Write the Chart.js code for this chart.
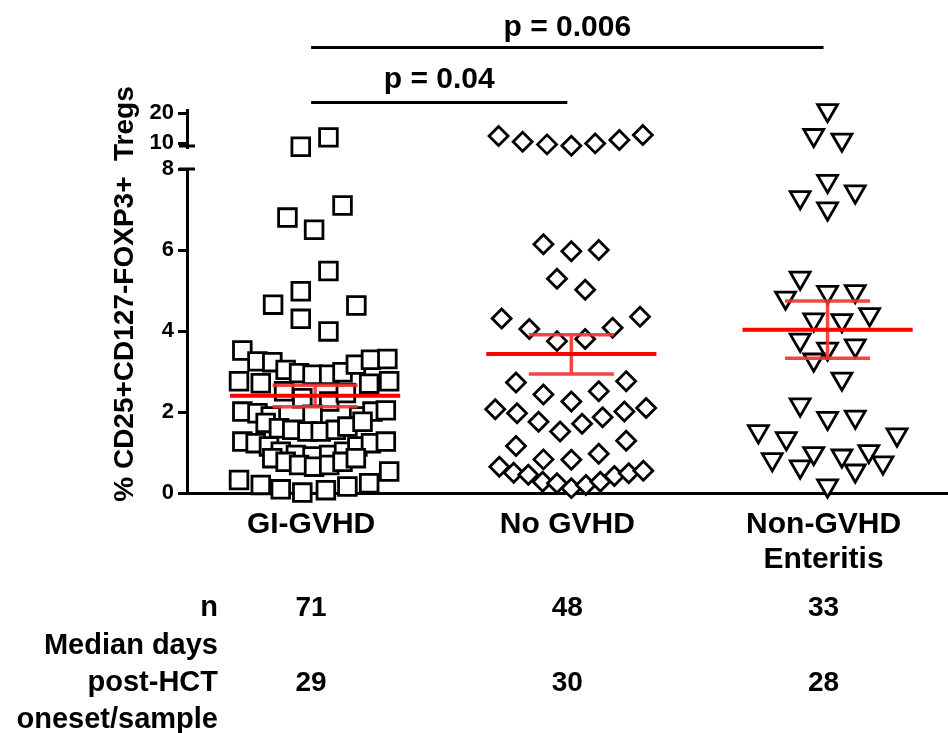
<!DOCTYPE html>
<html>
<head>
<meta charset="utf-8">
<script src="https://cdn.jsdelivr.net/npm/chart.js@4.4.1/dist/chart.umd.min.js"></script>
<style>
html,body{margin:0;padding:0;background:#fff;}
canvas{display:block;}
</style>
</head>
<body>
<canvas id="c" width="948" height="733"></canvas>
<script>
// ---------------- DATA ----------------
const categories = ['GI-GVHD', 'No GVHD', ['Non-GVHD', 'Enteritis']];
const yTicksLower = [0, 2, 4, 6, 8];
const yTicksUpper = [10, 20];
const yTitle = '% CD25+CD127-FOXP3+  Tregs';

// GI-GVHD (squares) – lower segment
const giGvhdValues = [6.8,7.1,6.5,5.48,4.98,4.65,4.63,4.3,3.99,3.52,
  3.25,3.23,3.04,2.96,2.92,2.92,2.98,3.17,3.29,3.31,
  2.76,2.71,2.70,2.76,
  2.51,2.34,2.26,2.47,
  2.01,1.97,1.89,1.93,1.89,2.01,2.04,
  1.73,1.6,1.56,1.52,1.52,1.56,1.64,1.76,
  1.27,1.23,1.15,1.02,0.94,0.9,0.94,1.02,1.15,1.23,1.27,
  0.86,0.77,0.69,0.65,0.69,0.77,0.86,
  0.32,0.2,0.09,0.01,0.07,0.16,0.24,0.53];
const giGvhdJitter = [-0.108,0.107,-0.004,0.052,-0.056,-0.164,0.161,-0.056,0.052,-0.284,
  -0.225,-0.167,-0.115,-0.0625,-0.01,0.055,0.107,0.159,0.218,0.282,
  -0.297,-0.212,0.211,0.289,
  -0.121,-0.05,0.055,0.12,
  -0.284,-0.225,-0.173,-0.01,0.172,0.224,0.276,
  -0.193,-0.141,-0.089,-0.03,0.022,0.081,0.126,0.185,
  -0.284,-0.232,-0.18,-0.134,-0.075,-0.01,0.055,0.113,0.165,0.218,0.276,
  -0.167,-0.115,-0.0625,-0.004,0.055,0.107,0.159,
  -0.297,-0.212,-0.134,-0.05,0.042,0.126,0.211,0.289];
// GI-GVHD – upper segment
const giGvhdHighValues = [8.8, 11.9];
const giGvhdHighJitter = [-0.056, 0.052];

// No GVHD (diamonds) – lower segment
const noGvhdValues = [6.14,5.97,6.0,5.29,5.02,
  4.31,4.05,3.75,3.8,4.08,4.35,
  2.73,2.43,2.26,2.51,2.76,
  2.07,1.97,1.76,1.52,1.71,1.87,2.01,2.1,
  1.16,0.83,0.82,0.97,1.29,
  0.65,0.5,0.45,0.28,0.24,0.12,0.2,0.28,0.42,0.49,0.55];
const noGvhdJitter = [-0.109,0,0.107,-0.056,0.054,
  -0.272,-0.164,-0.056,0.054,0.161,0.268,
  -0.216,-0.109,0,0.107,0.214,
  -0.297,-0.212,-0.128,-0.044,0.042,0.122,0.207,0.292,
  -0.216,-0.109,0,0.107,0.214,
  -0.281,-0.225,-0.168,-0.112,-0.056,0,0.057,0.113,0.168,0.224,0.281];
// No GVHD – upper segment
const noGvhdHighValues = [12.33,10.43,9.57,9.1,9.9,11.0,12.67];
const noGvhdHighJitter = [-0.284,-0.19,-0.095,0,0.093,0.1875,0.279];

// Non-GVHD Enteritis (down triangles) – lower segment
const enteritisValues = [7.7,7.3,7.44,7.02,
  5.31,4.82,4.96,4.98,4.41,4.28,4.26,
  3.78,3.56,3.64,3.29,2.82,
  2.18,1.85,1.88,1.52,1.35,1.44,
  0.83,0.98,0.92,1.03,0.65,0.55,0.75,0.18];
const enteritisJitter = [0,-0.107,0.108,0,
  -0.107,-0.164,0,0.108,0.164,-0.054,0.056,
  -0.107,0,0.108,-0.054,0.056,
  -0.107,0,0.108,-0.27,-0.161,0.271,
  -0.216,-0.054,0.056,0.161,-0.107,0.108,0.216,0];
// Non-GVHD Enteritis – upper segment
const enteritisHighValues = [20.9, 12.6, 11.1];
const enteritisHighJitter = [0, -0.054, 0.056];

// Mean and SEM per group
const means   = [2.40, 3.43, 4.03];
const semHigh = [2.66, 3.91, 4.74];
const semLow  = [2.13, 2.94, 3.33];

// Significance brackets
const pFrom   = [1, 1];
const pTo     = [2, 3];
const pLabels = ['p = 0.04', 'p = 0.006'];

// Table under the chart
const nValues     = [71, 48, 33];
const medianDays  = [29, 30, 28];
const rowLabelN   = 'n';
const rowLabelMed = ['Median days', 'post-HCT', 'oneset/sample'];

// ---------------- STYLE / LAYOUT ----------------
const FONT = '"Liberation Sans", Arial, Helvetica, sans-serif';
const MEAN_HW = 0.332;
const CAP_HW = 0.166;
const LABEL_SHIFT = -4;

function pts(vals, jit, cat) { return vals.map((v, i) => ({x: cat + jit[i], y: v})); }
function meanData() {
  const d = [];
  means.forEach((m, i) => { const c = i + 1; d.push({x: c - MEAN_HW, y: m}, {x: c + MEAN_HW, y: m}, {x: c, y: null}); });
  return d;
}
function semData() {
  const d = [];
  means.forEach((m, i) => {
    const c = i + 1;
    d.push({x: c - CAP_HW, y: semHigh[i]}, {x: c + CAP_HW, y: semHigh[i]}, {x: c, y: null});
    d.push({x: c, y: semHigh[i]}, {x: c, y: semLow[i]}, {x: c, y: null});
    d.push({x: c - CAP_HW, y: semLow[i]}, {x: c + CAP_HW, y: semLow[i]}, {x: c, y: null});
  });
  return d;
}
const marker = {backgroundColor: '#ffffff', borderColor: '#000000', borderWidth: 2.8, clip: false, order: 2};
const sqr = Object.assign({}, marker, {pointStyle: 'rect', pointRadius: 12.5});
const dia = Object.assign({}, marker, {pointStyle: 'rectRot', pointRadius: 9.5});
const tri = Object.assign({}, marker, {pointStyle: 'triangle', pointRadius: 11.5, rotation: 180});

const annot = {
  id: 'annot',
  afterDraw(chart) {
    const {ctx, scales: {x, y, y2}} = chart;
    ctx.save();
    ctx.fillStyle = '#000'; ctx.strokeStyle = '#000'; ctx.lineWidth = 3;
    // axis break caps
    const ax = y.right;
    [y.getPixelForValue(y.max), y2.bottom - 1].forEach(py => {
      ctx.beginPath(); ctx.moveTo(ax - 8, py); ctx.lineTo(ax + 8, py); ctx.stroke();
    });
    // y title
    ctx.save();
    ctx.translate(133, 294); ctx.rotate(-Math.PI / 2);
    ctx.font = 'bold 28px ' + FONT; ctx.textAlign = 'center'; ctx.textBaseline = 'alphabetic';
    ctx.fillText(yTitle, 0, 0);
    ctx.restore();
    // significance brackets
    const lineY = [102.5, 47.5], textY = [88, 36];
    ctx.font = 'bold 30px ' + FONT; ctx.textAlign = 'center'; ctx.textBaseline = 'alphabetic';
    pFrom.forEach((f, i) => {
      const x1 = x.getPixelForValue(f) + LABEL_SHIFT, x2 = x.getPixelForValue(pTo[i]) + LABEL_SHIFT;
      ctx.beginPath(); ctx.moveTo(x1, lineY[i]); ctx.lineTo(x2, lineY[i]); ctx.stroke();
      ctx.fillText(pLabels[i], (x1 + x2) / 2, textY[i]);
    });
    // table
    ctx.font = 'bold 29px ' + FONT;
    ctx.textAlign = 'right';
    ctx.fillText(rowLabelN, 218, 616);
    rowLabelMed.forEach((t, i) => ctx.fillText(t, 218, 654 + i * 37));
    ctx.font = 'bold 28px ' + FONT;
    ctx.textAlign = 'center';
    nValues.forEach((v, i) => ctx.fillText(String(v), x.getPixelForValue(i + 1) + LABEL_SHIFT, 616));
    medianDays.forEach((v, i) => ctx.fillText(String(v), x.getPixelForValue(i + 1) + LABEL_SHIFT, 691));
    ctx.restore();
  }
};

const tickFont = {family: FONT, size: 22, weight: 'bold'};
new Chart(document.getElementById('c'), {
  type: 'scatter',
  data: {
    datasets: [
      {type: 'line', label: 'mean', data: meanData(), yAxisID: 'y', borderColor: '#ff0000', borderWidth: 4, pointRadius: 0, spanGaps: false, fill: false, order: 0},
      {type: 'line', label: 'sem', data: semData(), yAxisID: 'y', borderColor: 'rgba(238,50,50,0.9)', borderWidth: 3.5, pointRadius: 0, spanGaps: false, fill: false, order: 1},
      Object.assign({label: 'GI-GVHD', data: pts(giGvhdValues, giGvhdJitter, 1), yAxisID: 'y'}, sqr),
      Object.assign({label: 'GI-GVHD high', data: pts(giGvhdHighValues, giGvhdHighJitter, 1), yAxisID: 'y2'}, sqr),
      Object.assign({label: 'No GVHD', data: pts(noGvhdValues, noGvhdJitter, 2), yAxisID: 'y'}, dia),
      Object.assign({label: 'No GVHD high', data: pts(noGvhdHighValues, noGvhdHighJitter, 2), yAxisID: 'y2'}, dia),
      Object.assign({label: 'Non-GVHD Enteritis', data: pts(enteritisValues, enteritisJitter, 3), yAxisID: 'y'}, tri),
      Object.assign({label: 'Non-GVHD Enteritis high', data: pts(enteritisHighValues, enteritisHighJitter, 3), yAxisID: 'y2'}, tri)
    ]
  },
  options: {
    responsive: false, animation: false, devicePixelRatio: 1, events: [],
    layout: {padding: {top: 110, left: 0, right: 0, bottom: 0}, autoPadding: false},
    plugins: {legend: {display: false}, tooltip: {enabled: false}, title: {display: false}},
    scales: {
      x: {
        type: 'linear', position: 'bottom', min: 0.5, max: 3.47,
        afterBuildTicks: s => { s.ticks = [1, 2, 3].map(v => ({value: v})); },
        ticks: {callback: v => categories[v - 1], font: {family: FONT, size: 30, weight: 'bold', lineHeight: 1.167}, color: '#000', padding: 14, maxRotation: 0, autoSkip: false, labelOffset: LABEL_SHIFT},
        grid: {display: false, drawTicks: false},
        border: {display: true, width: 3, color: '#000'},
        afterFit: s => { s.height = 240; }
      },
      y: {
        type: 'linear', position: 'left', stack: 'v', stackWeight: 324, min: 0, max: 8,
        afterBuildTicks: s => { s.ticks = yTicksLower.map(v => ({value: v})); },
        ticks: {font: tickFont, color: '#000', padding: 4},
        grid: {drawOnChartArea: false, drawTicks: true, tickLength: 9, tickWidth: 3, tickColor: '#000', lineWidth: 3},
        border: {display: true, width: 3, color: '#000'},
        afterFit: s => { s.width = 187; }
      },
      gap: {
        type: 'linear', position: 'left', stack: 'v', stackWeight: 22, min: 0, max: 1,
        ticks: {display: false}, grid: {display: false, drawTicks: false}, border: {display: false},
        afterFit: s => { s.width = 187; }
      },
      y2: {
        type: 'linear', position: 'left', stack: 'v', stackWeight: 37, min: 8.7, max: 21,
        afterBuildTicks: s => { s.ticks = yTicksUpper.map(v => ({value: v})); },
        ticks: {font: tickFont, color: '#000', padding: 4},
        grid: {drawOnChartArea: false, drawTicks: true, tickLength: 9, tickWidth: 3, tickColor: '#000', lineWidth: 3},
        border: {display: true, width: 3, color: '#000'},
        afterFit: s => { s.width = 187; }
      }
    }
  },
  plugins: [annot]
});
</script>
</body>
</html>
